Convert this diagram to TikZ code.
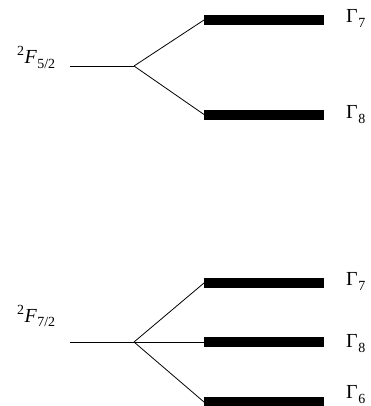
\documentclass[tikz,border=0pt]{standalone}
\usepackage{fontspec}
\setmainfont{Liberation Serif}
\newcommand{\lvlabel}[3]{\raisebox{0.4em}{\fontsize{14}{14}\selectfont #1}\kern0.02em\textit{F}\kern0.02em\raisebox{-0.25em}{\fontsize{14}{14}\selectfont #3}}
\newcommand{\gam}[1]{Γ\kern0.03em\raisebox{-0.3em}{\fontsize{14}{14}\selectfont #1}}
\begin{document}
\begin{tikzpicture}[x=1bp,y=-1bp,
  levelbar/.style={fill=black,draw=none,minimum width=120bp,minimum height=10bp,inner sep=0pt,outer sep=0pt},
  thin line/.style={line width=0.8bp,black},
  lab/.style={font=\fontsize{20}{22}\selectfont,inner sep=0pt,anchor=base west}]
\useasboundingbox (0,0) rectangle (371,406);
\clip (0,0) rectangle (371,406);
% upper group
\coordinate (a0) at (70,66);
\coordinate (a1) at (134,66);
\node[levelbar] (a7) at (264,20) {};
\node[levelbar] (a8) at (264,114.5) {};
\draw[thin line] (a0) -- (a1);
\draw[thin line] (a1) -- (a7.west);
\draw[thin line] (a1) -- (a8.west);
\node[lab] (la) at (17,63.5) {\lvlabel{2}{F}{5/2}};
\node[lab] (ga7) at (346,22) {\gam{7}};
\node[lab] (ga8) at (346,118) {\gam{8}};
% lower group
\coordinate (b0) at (70,342);
\coordinate (b1) at (134,342);
\node[levelbar] (b7) at (264,283) {};
\node[levelbar] (b8) at (264,342) {};
\node[levelbar] (b6) at (264,402) {};
\draw[thin line] (b0) -- (b1);
\draw[thin line] (b1) -- (b7.west);
\draw[thin line] (b1) -- (b8.west);
\draw[thin line] (b1) -- (b6.west);
\node[lab] (lb) at (17,322) {\lvlabel{2}{F}{7/2}};
\node[lab] (gb7) at (346,285) {\gam{7}};
\node[lab] (gb8) at (346,347) {\gam{8}};
\node[lab] (gb6) at (346,398) {\gam{6}};
\end{tikzpicture}
\end{document}
